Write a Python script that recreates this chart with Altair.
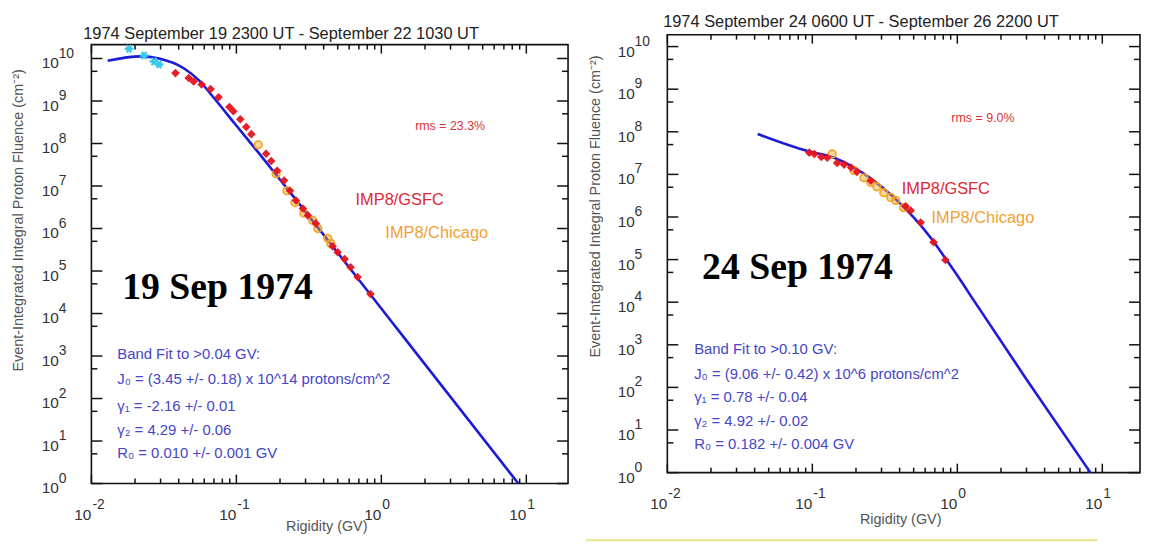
import altair as alt
import pandas as pd

# ---------------- data (log10 values) ----------------
# Left panel: 19 Sep 1974
L_fit_logR = [-1.888, -1.660, -1.534, -1.363, -1.26, -1.146, -1.009, -0.849, -0.666, 0.10, 0.945]
L_fit_logF = [9.946, 10.05, 10.0, 9.77, 9.49, 9.035, 8.458, 7.79, 7.01, 3.68, 0.0]
L_gsfc_logR = [-1.420, -1.329, -1.295, -1.240, -1.178, -1.123, -1.048, -1.021, -0.973, -0.932, -0.897,
               -0.795, -0.760, -0.719, -0.671, -0.630, -0.589, -0.541, -0.507, -0.452, -0.336, -0.301,
               -0.253, -0.212, -0.164, -0.075]
L_gsfc_logF = [9.657, 9.54, 9.46, 9.39, 9.28, 9.09, 8.86, 8.76, 8.57, 8.39, 8.22,
               7.76, 7.59, 7.36, 7.13, 6.89, 6.66, 6.47, 6.31, 6.12, 5.58, 5.44,
               5.28, 5.09, 4.86, 4.46]
L_chi_logR = [-0.849, -0.726, -0.651, -0.596, -0.534, -0.473, -0.438, -0.370, -0.349]
L_chi_logF = [7.97, 7.29, 6.89, 6.61, 6.36, 6.19, 6.00, 5.77, 5.65]
L_gle_logR = [-1.74, -1.637, -1.568, -1.534]
L_gle_logF = [10.23, 10.07, 9.93, 9.86]

# Right panel: 24 Sep 1974
R_fit_logR = [-1.377, -1.034, -0.849, -0.712, -0.575, -0.438, -0.301, -0.185, -0.082, 0.021, 0.110, 0.473, 0.918]
R_fit_logF = [7.95, 7.55, 7.39, 7.16, 6.85, 6.46, 5.99, 5.52, 5.03, 4.52, 4.06, 2.21, 0.0]
R_gsfc_logR = [-1.021, -0.986, -0.938, -0.897, -0.829, -0.781, -0.733, -0.692, -0.596, -0.356,
               -0.322, -0.253, -0.164, -0.082]
R_gsfc_logF = [7.51, 7.48, 7.41, 7.39, 7.27, 7.23, 7.16, 7.06, 6.85, 6.25,
               6.15, 5.87, 5.41, 4.99]
R_chi_logR = [-0.863, -0.712, -0.644, -0.596, -0.555, -0.507, -0.459, -0.425, -0.370]
R_chi_logF = [7.48, 7.09, 6.92, 6.81, 6.71, 6.57, 6.46, 6.39, 6.22]

# axis ticks and labels
x_major = [0.01, 0.1, 1, 10]
x_major_exp = ["-2", "-1", "0", "1"]
x_minor = [m * d for d in (0.01, 0.1, 1, 10) for m in range(2, 10) if m * d < 18]
y_major = [10 ** k for k in range(0, 11)]
y_major_exp = [str(k) for k in range(0, 11)]
y_minor = [5 * 10 ** k for k in range(0, 10)]

left_title = "1974 September 19 2300 UT - September 22 1030 UT"
right_title = "1974 September 24 0600 UT - September 26 2200 UT"
ytitle = "Event-Integrated Integral Proton Fluence (cm\u207b\u00b2)"
xtitle = "Rigidity (GV)"
left_fit_text = ["Band Fit to >0.04 GV:",
                 "J\u2080 = (3.45 +/- 0.18) x 10^14 protons/cm^2",
                 "\u03b3\u2081 = -2.16 +/- 0.01",
                 "\u03b3\u2082 = 4.29 +/- 0.06",
                 "R\u2080 = 0.010 +/- 0.001 GV"]
right_fit_text = ["Band Fit to >0.10 GV:",
                  "J\u2080 = (9.06 +/- 0.42) x 10^6 protons/cm^2",
                  "\u03b3\u2081 = 0.78 +/- 0.04",
                  "\u03b3\u2082 = 4.92 +/- 0.02",
                  "R\u2080 = 0.182 +/- 0.004 GV"]

# ---------------- styling ----------------
FONT = "Liberation Sans"
BLUE_LINE = "#1c1cd8"
RED = "#e5141c"
ORANGE = "#f2a324"
CYAN = "#38c8ec"
TXT_BLUE = "#4646c8"

ONE = pd.DataFrame({"a": [0]})


def df_from_log(lr, lf):
    return pd.DataFrame({"R": [10 ** v for v in lr], "F": [10 ** v for v in lf]})


def txt(s, x, y, size=13, color="#222", align="left", font=FONT, weight="normal", angle=0):
    kw = dict(text=s, fontSize=size, color=color, align=align, baseline="middle",
              font=font, fontWeight=weight)
    if angle:
        kw["angle"] = angle
    return alt.Chart(ONE).mark_text(**kw).encode(x=alt.value(x), y=alt.value(y))


def panel(g, xdom, ydom, fit, gsfc, chi, gle, title, rms, fit_text, date, pos):
    xs = alt.Scale(type="log", domain=xdom, range=[g["left"], g["right"]], nice=False)
    ys = alt.Scale(type="log", domain=ydom, range=[g["bottom"], g["top"]], nice=False)
    L, R, T, B = g["left"], g["right"], g["top"], g["bottom"]
    layers = []
    # frame
    layers.append(alt.Chart(ONE).mark_rect(fillOpacity=0, stroke="#111", strokeWidth=1.6).encode(
        x=alt.value(L), x2=alt.value(R), y=alt.value(T), y2=alt.value(B)))
    # ticks
    xmaj = pd.DataFrame({"v": x_major, "e": x_major_exp, "b": ["10"] * len(x_major)})
    xmin = pd.DataFrame({"v": x_minor})
    ymaj = pd.DataFrame({"v": y_major, "e": y_major_exp, "b": ["10"] * len(y_major)})
    ymin = pd.DataFrame({"v": y_minor})
    for d, ln in ((xmaj, 9), (xmin, 5)):
        for y0, y1 in ((B, B - ln), (T, T + ln)):
            layers.append(alt.Chart(d).mark_rule(color="#111", strokeWidth=1.5).encode(
                x=alt.X("v:Q", scale=xs, axis=None), y=alt.value(y0), y2=alt.value(y1)))
    for d, ln in ((ymaj, 11), (ymin, 6)):
        for x0, x1 in ((L, L + ln), (R, R - ln)):
            layers.append(alt.Chart(d).mark_rule(color="#111", strokeWidth=1.5).encode(
                y=alt.Y("v:Q", scale=ys, axis=None), x=alt.value(x0), x2=alt.value(x1)))
    # tick labels
    layers.append(alt.Chart(xmaj).mark_text(font=FONT, fontSize=15.5, color="#333", align="right",
                                             baseline="middle").encode(
        x=alt.X("v:Q", scale=xs, axis=None), y=alt.value(B + 32), text="b:N"))
    layers.append(alt.Chart(xmaj).mark_text(font=FONT, fontSize=14, color="#333", align="left",
                                             baseline="middle", dx=1).encode(
        x=alt.X("v:Q", scale=xs, axis=None), y=alt.value(B + 22), text="e:N"))
    layers.append(alt.Chart(ymaj).mark_text(font=FONT, fontSize=15.5, color="#333", align="left",
                                             baseline="middle", dy=5).encode(
        y=alt.Y("v:Q", scale=ys, axis=None), x=alt.value(L - 50), text="b:N"))
    layers.append(alt.Chart(ymaj).mark_text(font=FONT, fontSize=14, color="#333", align="left",
                                             baseline="middle", dy=-5).encode(
        y=alt.Y("v:Q", scale=ys, axis=None), x=alt.value(L - 33), text="e:N"))
    # fit curve
    layers.append(alt.Chart(fit).mark_line(color=BLUE_LINE, strokeWidth=2.6, interpolate="monotone").encode(
        x=alt.X("R:Q", scale=xs, axis=None), y=alt.Y("F:Q", scale=ys, axis=None)))
    # data points
    layers.append(alt.Chart(chi).mark_point(shape="circle", size=60, filled=True, color=ORANGE,
                                            fillOpacity=0.45, stroke=ORANGE, strokeWidth=1.6).encode(
        x=alt.X("R:Q", scale=xs, axis=None), y=alt.Y("F:Q", scale=ys, axis=None)))
    layers.append(alt.Chart(gsfc).mark_point(shape="diamond", size=75, filled=True, color=RED,
                                             opacity=0.95).encode(
        x=alt.X("R:Q", scale=xs, axis=None), y=alt.Y("F:Q", scale=ys, axis=None)))
    if gle is not None:
        star = "M -1 0 L 1 0 M -0.5 -0.87 L 0.5 0.87 M -0.5 0.87 L 0.5 -0.87"
        layers.append(alt.Chart(gle).mark_point(shape=star, size=75, filled=False, color=CYAN,
                                                strokeWidth=2.4, opacity=1).encode(
            x=alt.X("R:Q", scale=xs, axis=None), y=alt.Y("F:Q", scale=ys, axis=None)))
    # texts
    layers.append(txt(title, pos["title"][0], pos["title"][1], size=16.5, color="#222", align="center"))
    layers.append(txt(ytitle, pos["ytitle"][0], pos["ytitle"][1], size=14.5, color="#555",
                      align="center", angle=270))
    layers.append(txt(xtitle, pos["xtitle"][0], pos["xtitle"][1], size=14.5, color="#555", align="center"))
    layers.append(txt(rms, pos["rms"][0], pos["rms"][1], size=12.5, color="#d83434"))
    layers.append(txt("IMP8/GSFC", pos["gsfc"][0], pos["gsfc"][1], size=16.5, color="#dc2a36"))
    layers.append(txt("IMP8/Chicago", pos["chi"][0], pos["chi"][1], size=16.5, color="#f0a232"))
    layers.append(txt(date, pos["date"][0], pos["date"][1], size=38, color="#000",
                      font="Liberation Serif", weight="bold"))
    for i, s in enumerate(fit_text):
        layers.append(txt(s, pos["fit"][0], pos["fit"][1][i], size=15, color=TXT_BLUE))
    return alt.layer(*layers)


gL = dict(left=84, right=564, top=35, bottom=477)
gR = dict(left=664, right=1140, top=25, bottom=466)

posL = dict(title=(275, 24), ytitle=(11, 212), xtitle=(321, 521), rms=(410, 117),
            gsfc=(350, 192), chi=(380, 225), date=(115, 280),
            fit=(110, [347, 372, 399, 423, 446]))
posR = dict(title=(859, 12), ytitle=(592, 198), xtitle=(899, 514), rms=(950, 109),
            gsfc=(900, 180), chi=(930, 210), date=(699, 260),
            fit=(691, [342, 367, 390, 414, 437]))

left = panel(gL, [0.01, 19.4], [1, 2.12e10],
             df_from_log(L_fit_logR, L_fit_logF), df_from_log(L_gsfc_logR, L_gsfc_logF),
             df_from_log(L_chi_logR, L_chi_logF), df_from_log(L_gle_logR, L_gle_logF),
             left_title, "rms = 23.3%", left_fit_text, "19 Sep 1974", posL)
right = panel(gR, [0.01, 18.2], [1, 1.9e10],
              df_from_log(R_fit_logR, R_fit_logF), df_from_log(R_gsfc_logR, R_gsfc_logF),
              df_from_log(R_chi_logR, R_chi_logF), None,
              right_title, "rms = 9.0%", right_fit_text, "24 Sep 1974", posR)

bottom_line = alt.Chart(ONE).mark_rule(color="#e6e48a", strokeWidth=2).encode(
    x=alt.value(582), x2=alt.value(1097), y=alt.value(534))

chart = alt.layer(left, right, bottom_line).resolve_scale(
    x="independent", y="independent"
).properties(
    width=1141, height=536, padding=0, autosize=alt.AutoSizeParams(type="none"),
    background="white"
).configure_view(stroke=None)

chart.save("out.html", embed_options={"renderer": "svg", "actions": False})
